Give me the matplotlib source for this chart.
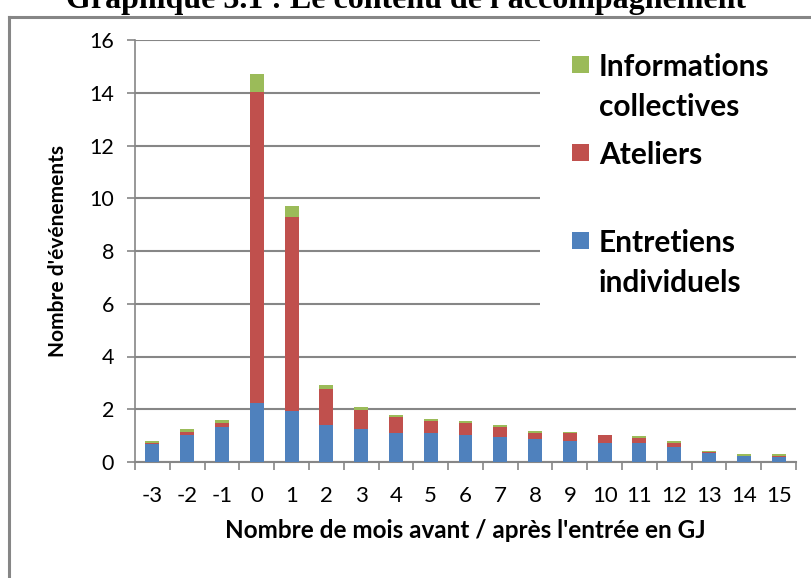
import matplotlib; matplotlib.use("Agg")
import matplotlib.pyplot as plt
import numpy as np
from matplotlib.patches import Rectangle
from matplotlib.lines import Line2D

BLUE = "#4F81BD"; RED = "#C0504D"; GREEN = "#9BBB59"; GRID = "#868686"
plt.rcParams.update({"font.family": ["Lato", "DejaVu Sans"], "text.color": "black"})

mois = ["-3", "-2", "-1", "0", "1", "2", "3", "4", "5", "6", "7", "8", "9", "10", "11", "12", "13", "14", "15"]
entretiens = [0.70, 1.04, 1.34, 2.22, 1.95, 1.42, 1.27, 1.11, 1.09, 1.04, 0.94, 0.86, 0.78, 0.73, 0.73, 0.58, 0.33, 0.24, 0.19]
ateliers = [0.03, 0.09, 0.13, 11.80, 7.35, 1.36, 0.71, 0.61, 0.48, 0.43, 0.40, 0.25, 0.31, 0.28, 0.19, 0.15, 0.04, 0.00, 0.05]
informations = [0.05, 0.13, 0.14, 0.68, 0.41, 0.13, 0.12, 0.05, 0.05, 0.07, 0.05, 0.08, 0.03, 0.03, 0.08, 0.05, 0.03, 0.08, 0.08]
series = [("Informations\ncollectives", GREEN), ("Ateliers", RED), ("Entretiens\nindividuels", BLUE)]

W, H = 811, 578
fig = plt.figure(figsize=(W / 100, H / 100), dpi=100)
fig.patch.set_facecolor("white")
ax = fig.add_axes([135 / W, (H - 462) / H, (796 - 135) / W, (462 - 40) / H])

x = np.arange(len(mois))
e = np.array(entretiens); a = np.array(ateliers); i = np.array(informations)
ax.bar(x, e, 0.4, color=BLUE, zorder=3)
ax.bar(x, a, 0.4, bottom=e, color=RED, zorder=3)
ax.bar(x, i, 0.4, bottom=e + a, color=GREEN, zorder=3)

ax.set_xlim(-0.5, len(mois) - 0.5)
ax.set_ylim(0, 16)
ax.set_yticks(np.arange(0, 17, 2))
ax.yaxis.grid(True, color=GRID, lw=1.5)
ax.set_axisbelow(True)
for sp in ["top", "right"]:
    ax.spines[sp].set_visible(False)
for sp in ["left", "bottom"]:
    ax.spines[sp].set_color(GRID); ax.spines[sp].set_linewidth(1.2)
ax.spines["bottom"].set_linewidth(1.5)
ax.set_xticks(x)
ax.set_xticklabels(mois)
ax.set_xticks(np.arange(-0.5, len(mois)), minor=True)
ax.tick_params(axis="x", which="major", length=0, pad=17, labelsize=16)
ax.tick_params(axis="x", which="minor", length=6, color=GRID, width=1.2)
ax.tick_params(axis="y", length=6, color=GRID, width=1.2, pad=9, labelsize=15.5)
ax.set_xlabel("Nombre de mois avant / après l'entrée en GJ", fontsize=17.5, fontweight="bold", labelpad=10)
ax.set_ylabel("Nombre d'événements", fontsize=15, fontweight="bold", labelpad=15)

# legend area (covers gridlines like the original)
tr = fig.dpi_scale_trans
def px(xp, yp):
    return (xp / 100, (H - yp) / 100)
fig.add_artist(Rectangle(px(540, 309), 2.57, 2.72, transform=tr, facecolor="white", edgecolor="none", zorder=5))
ys = [64, 152, 240]
for (lab, col), yc in zip(series, ys):
    fig.add_artist(Rectangle(px(572, yc + 8.5), 0.17, 0.17, transform=tr, facecolor=col, edgecolor="none", zorder=6))
    fig.text(599 / W, (H - yc) / H, lab.split("\n")[0], fontsize=21.5, fontweight="bold", va="center_baseline",
             ha="left", zorder=7)
    if "\n" in lab:
        fig.text(599 / W, (H - yc - 40) / H, lab.split("\n")[1], fontsize=21.5, fontweight="bold",
                 va="center_baseline", ha="left", zorder=7)

# frame and title
fig.add_artist(Line2D([9 / W, 9 / W], [0, (H - 17) / H], color=GRID, lw=2.2))
fig.add_artist(Line2D([9 / W, 1], [(H - 17) / H, (H - 17) / H], color=GRID, lw=2.2))
fig.text(0.5, (H - 8) / H, "Graphique 3.1 : Le contenu de l'accompagnement", family="Liberation Serif",
         fontsize=23, fontweight="bold", ha="center", va="baseline")

fig.savefig("out.png", dpi=100, facecolor="white")
